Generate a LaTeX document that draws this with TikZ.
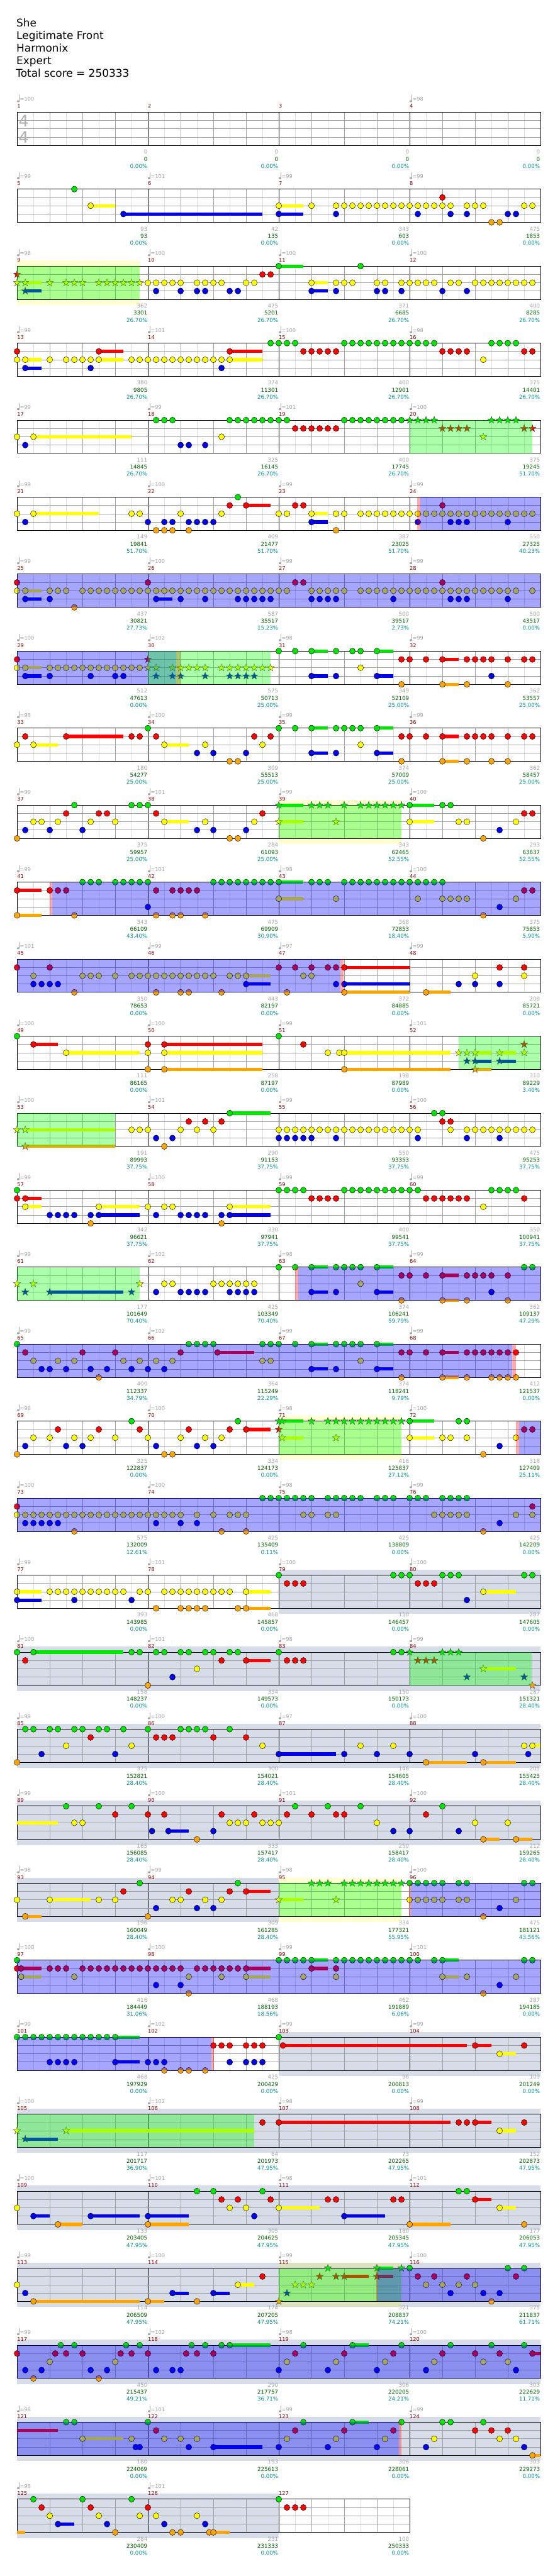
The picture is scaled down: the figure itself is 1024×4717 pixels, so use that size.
\documentclass[tikz,border=0pt]{standalone}
\usepackage{fontspec}
\setmainfont{DejaVu Sans}
\definecolor{cg}{RGB}{0,230,0}
\definecolor{cr}{RGB}{255,0,0}
\definecolor{cy}{RGB}{255,255,0}
\definecolor{cb}{RGB}{0,0,240}
\definecolor{co}{RGB}{255,165,0}
\definecolor{odc}{RGB}{0,0,255}
\definecolor{spc}{RGB}{0,255,0}
\definecolor{ybc}{RGB}{255,255,0}
\definecolor{gbc}{RGB}{214,220,232}
\definecolor{pkc}{RGB}{255,0,0}
\definecolor{eic}{RGB}{222,222,222}
\definecolor{grc}{RGB}{160,160,160}
\definecolor{mnc}{RGB}{139,0,0}
\definecolor{tgc}{RGB}{165,165,165}
\definecolor{sgn}{RGB}{0,100,0}
\definecolor{stl}{RGB}{0,150,150}
\definecolor{tsc}{RGB}{175,175,175}
\tikzset{
 notest/.style={draw=black,line width=0.5pt},
 starst/.style={draw=black!80,line width=0.4pt},
 eighthl/.style={draw=eic,line width=0.8pt},
 beatl/.style={draw=grc,line width=0.8pt},
 measl/.style={draw=black,line width=0.8pt},
 lanel/.style={draw=grc,line width=0.8pt},
 borderl/.style={draw=black,line width=1pt},
 mnum/.style={anchor=base west,inner sep=0pt,text=mnc,font=\fontsize{9.5}{11}\selectfont},
 tempot/.style={anchor=base west,inner sep=0pt,text=tgc,font=\fontsize{9.5}{11}\selectfont},
 sga/.style={anchor=base east,inner sep=0pt,text=tgc,font=\fontsize{10}{12}\selectfont},
 sgb/.style={anchor=base east,inner sep=0pt,text=sgn,font=\fontsize{10}{12}\selectfont},
 sgc/.style={anchor=base east,inner sep=0pt,text=stl,font=\fontsize{10}{12}\selectfont},
 titlet/.style={anchor=base west,inner sep=0pt,font=\fontsize{19.5}{23}\selectfont},
 tsig/.style={anchor=base west,inner sep=0pt,text=tsc,font=\fontsize{29}{30}\selectfont},
}
\newcommand\RS[1]{\begin{scope}[shift={(31.2pt,-#1pt)},x=14.97pt,y=-15.2pt]}
\newcommand\RE{\end{scope}}
\newcommand\GRID[1]{%
 \foreach \ii in {2,6,...,#1}{\draw[eighthl] (\ii,0) -- (\ii,4);}%
 \foreach \ii in {4,8,...,#1}{\draw[beatl] (\ii,0) -- (\ii,4);}%
 \foreach \ii in {16,32,...,#1}{\draw[measl] (\ii,0) -- (\ii,4);}%
 \foreach \ii in {1,2,3}{\draw[lanel] (0,\ii) -- (#1,\ii);}%
 \draw[borderl] (0,0) rectangle (#1,4);}
\newcommand\NT[3]{\foreach \pp in {#3}{\filldraw[notest,fill=#1] (\pp,#2) circle[x radius=5.3pt,y radius=5.5pt];}}
\newcommand\STR[3]{\foreach \pp in {#3}{\filldraw[starst,fill=#1] (\pp,#2) +(90:7pt) -- +(126:2.8pt) -- +(162:7pt) -- +(198:2.8pt) -- +(234:7pt) -- +(270:2.8pt) -- +(306:7pt) -- +(342:2.8pt) -- +(18:7pt) -- +(54:2.8pt) -- cycle;}}
\newcommand\BAR[4]{\fill[#1] (#3,{#2-0.197}) rectangle (#4,{#2+0.197});}
\newcommand\Ngr[1]{\NT{cg}{0}{#1}}
\newcommand\Nrd[1]{\NT{cr}{1}{#1}}
\newcommand\Nyl[1]{\NT{cy}{2}{#1}}
\newcommand\Nbl[1]{\NT{cb}{3}{#1}}
\newcommand\Nor[1]{\NT{co}{4}{#1}}
\newcommand\Sgr[1]{\STR{cg}{0}{#1}}
\newcommand\Srd[1]{\STR{cr}{1}{#1}}
\newcommand\Syl[1]{\STR{cy}{2}{#1}}
\newcommand\Sbl[1]{\STR{cb}{3}{#1}}
\newcommand\Sor[1]{\STR{co}{4}{#1}}
\newcommand\Bgr[2]{\BAR{cg}{0}{#1}{#2}}
\newcommand\Brd[2]{\BAR{cr}{1}{#1}{#2}}
\newcommand\Byl[2]{\BAR{cy}{2}{#1}{#2}}
\newcommand\Bbl[2]{\BAR{cb}{3}{#1}{#2}}
\newcommand\Bor[2]{\BAR{co}{4}{#1}{#2}}
\newcommand\OD[2]{\fill[odc,fill opacity=0.35] (#1,0) rectangle (#2,4);}
\newcommand\SP[2]{\fill[spc,fill opacity=0.33] (#1,0) rectangle (#2,4);}
\newcommand\PK[2]{\fill[pkc,fill opacity=0.33] (#1,0) rectangle (#2,4);}
\newcommand\GB[2]{\fill[gbc] (#1,-0.66) rectangle (#2,4.67);}
\newcommand\YB[2]{\fill[ybc,fill opacity=0.18] (#1,-0.66) rectangle (#2,4.67);}
\newcommand\MS[5]{%
 \pgfmathtruncatemacro\mrow{(#1-1)/4}%
 \pgfmathtruncatemacro\mcol{#1-1-4*\mrow}%
 \pgfmathsetmacro\mx{31.2+239.5*\mcol}%
 \pgfmathsetmacro\mxe{\mx+238.8}%
 \pgfmathsetmacro\mT{205.3+141*\mrow}%
 \node[mnum] (mn#1) at (\mx,\mT-7.3) {#1};%
 \def\tmpt{#2}%
 \ifx\tmpt\empty\else
  \fill[tgc] (\mx+2.2,\mT-20) ellipse (2.4 and 1.9);%
  \draw[tgc,line width=0.8pt] (\mx+4.3,\mT-20) -- (\mx+4.3,\mT-31);%
  \node[tempot] (tp#1) at (\mx+5,\mT-20) {=#2};%
 \fi
 \node[sga] (sa#1) at (\mxe,\mT+76.4) {#3};%
 \node[sgb] (sb#1) at (\mxe,\mT+89.6) {#4};%
 \node[sgc] (sc#1) at (\mxe,\mT+102.4) {#5\%};%
}
\begin{document}
\begin{tikzpicture}[x=1pt,y=-1pt]
\fill[white] (0,0) rectangle (1024,4717);
\useasboundingbox (0,0) rectangle (1024,4717);
\node[titlet] (t1) at (30,49.5) {She};
\node[titlet] (t2) at (30,72) {Legitimate Front};
\node[titlet] (t3) at (30,95) {Harmonix};
\node[titlet] (t4) at (30,117.5) {Expert};
\node[titlet] (t5) at (29,141) {Total score = 250333};
% row 1
\RS{205.3}\GRID{64}\RE
\node[tsig] (ts1) at (34,231.7) {4};
\node[tsig] (ts2) at (34,261.7) {4};
% row 2
\RS{346.3}\GRID{64}
\Byl{9}{12}\Bbl{13}{30}\Byl{32}{35}\Bbl{32}{35}
\Ngr{7}\Nrd{52}\Nyl{9,32,36}\Nyl{39,...,53}\Nyl{55,56,57,62,63}
\Nbl{13,32,39,49,53,55,60,61}\Nor{58,59}
\RE
% row 3
\RS{487.3}\YB{0}{15}\GRID{64}
\Byl{1}{3}\Bbl{1}{3}\Bgr{32}{35}\Byl{36}{38}\Bbl{36}{38}
\Syl{0,1,4,6,7,8}\Syl{10,...,15}\Srd{0}\Sbl{1}
\Nyl{16,...,20}\Nyl{22,...,25}\Nyl{28,29}\Nbl{17,20,22,23,26,27}\Nrd{30,31}\Ngr{32,42}
\Nyl{36,39,40,41,44,45}\Nyl{47,...,51}\Nyl{53,54}\Nyl{56,...,63}\Nbl{36,39,44,45,47,52,55}
\SP{0}{15}\RE
% row 4
\RS{628.3}\GRID{64}
\Byl{1}{3}\Bbl{1}{3}\Brd{10}{13}\Byl{10}{13}\Brd{26}{30}\Byl{26}{30}
\Nrd{0,10,26}\Nyl{0,1,4}\Nyl{6,...,10}\Nyl{14,...,26}\Nbl{1,9,25}
\Ngr{31,...,34}\Ngr{40,...,51}\Ngr{58,...,61}\Nrd{35,...,39}\Nrd{52,...,55}\Nrd{62,63}\Nyl{57}
\RE
% row 5
\RS{769.3}\GRID{64}
\Byl{2}{14}
\Nyl{0,2,25}\Nbl{1,20,21,23}\Ngr{17,18,19}\Ngr{26,...,33}\Ngr{40,...,47}\Nrd{34,...,39}
\Sgr{48,...,51}\Sgr{58,...,61}\Srd{52,...,55}\Srd{62,63}\Syl{57}
\SP{48}{63}\RE
% row 6
\RS{910.3}\GRID{64}
\Byl{2}{10}\Brd{28}{31}\Byl{36}{38}\Bbl{36}{38}
\Nyl{0,2,14,15,20,25,32,33,36,39,40}\Nyl{42,...,63}
\Nbl{1,16,18,19,21,22,23,24,36,49,53,54,55,60}
\Nor{17,18,19,21,39}\Ngr{27}\Nrd{26,28,34,35,52}
\PK{48.95}{49.3}\OD{49.3}{64}\RE
% row 7
\RS{1051.3}\GRID{64}
\Byl{1}{3}\Bbl{1}{3}\Byl{17}{19}\Bbl{17}{19}
\Nrd{0,16,34,35,52}\Nyl{0,1,4,5,6}\Nyl{8,...,33}\Nyl{36,...,40}\Nyl{42,...,61}\Nyl{63}
\Nbl{1,4,17,20,23,27,28,29,30,31,36,37,38,39,46,53,54,55,60}\Nor{7}
\OD{0}{64}\RE
% row 8
\RS{1192.3}\GRID{64}
\Byl{1}{3}\Bbl{1}{3}\Bgr{36}{38}\Bbl{36}{38}\Bgr{44}{46}\Bbl{44}{46}\Brd{52}{54}\Bor{52}{54}
\Nrd{0}\Nyl{0,1}\Nyl{4,...,15}\Nbl{1,4,9,12,13}
\Srd{16}\Syl{16,17,19,20,21,22,23}\Syl{25,...,31}\Sbl{17,19,20,23,26,27,28,29}
\Ngr{32,34,36,39,41,42,44}\Nyl{42}\Nbl{36,39,44,58}
\Nrd{47,48,50,52,55,56,57,58,60,62,63}\Nor{47,52,55,60}
\OD{0}{19.46}\PK{19.46}{19.98}\SP{16}{31}\RE
% row 9
\RS{1333.3}\GRID{64}
\Brd{6}{13}\Byl{2}{5}\Byl{18}{21}\Bgr{36}{38}\Bbl{36}{38}\Bgr{44}{46}\Bbl{44}{46}\Brd{52}{54}\Bor{52}{54}
\Nrd{1,6,14,15,17,29,31,47,48,50,52,55,56,57,58,60,62,63}
\Nyl{0,2,18,23,30,42}\Ngr{16,32,34,36,39,40,41,42,44}\Nbl{22,24,28,36,39,44}\Nor{26,27,47,52,55,58,60}
\RE
% row 10
\RS{1474.3}\YB{32}{47}\GRID{64}
\Bgr{32}{35}\Byl{18}{21}\Byl{32}{35}\Bgr{48}{51}\Byl{48}{51}
\Ngr{7,14,15,16,48,52,53}\Sgr{32,36,37,38,40}\Sgr{42,...,47}
\Nrd{6,10,11,17,30,62,63}\Nyl{2,3,5,9,12,18,23,29,48,54,55,61}\Syl{32,39}
\Nbl{1,4,8,22,24,28,59}\Nor{0,26,27,57}
\SP{32}{47}\RE
% row 11
\RS{1615.3}\GRID{64}
\Brd{0}{3}\Bor{0}{3}\Bgr{32}{35}\Byl{32}{35}
\Nrd{0,4,5,6,17,19,20,21,22,62,63}\Nor{0,7,17,19,20,23,57}
\Ngr{8,9,10}\Ngr{12,...,16}\Ngr{24,...,32}\Ngr{36,37,38}\Ngr{40,...,52}
\Nbl{16,59}\Nyl{32,39,49,52,53,54,55,61}
\PK{4}{4.3}\OD{4.3}{64}\RE
% row 12
\RS{1756.3}\GRID{64}
\Byl{28}{31}\Bbl{28}{31}\Brd{40}{48}\Bbl{40}{48}\Bor{40}{48}\Bor{50}{53}
\Nrd{0,4,32,34,36,38,39,40,59,62}\Nyl{2,8,9,10,12}\Nyl{14,...,24}\Nyl{26,27,28,35,36,56,62}
\Nbl{2,3,4,5,28,39,40,54,56,59}\Nor{7,17,20,21,25,33,40,50}
\OD{0}{39.5}\PK{39.5}{39.95}\RE
% row 13
\RS{1897.3}\GRID{64}
\Brd{2}{5}\Brd{18}{30}\Byl{6}{15}\Byl{18}{30}\Bor{18}{30}\Byl{40}{53}\Bor{40}{53}\Byl{56}{58}\Byl{59}{61}\Bbl{56}{58}\Bbl{59}{61}\Bor{56}{58}
\Ngr{0,32}\Nrd{2,16,18,35}\Nyl{6,16,18,38,39.4,40}\Nor{16,18,40}
\Srd{62}\Syl{54,55,56,59,62}\Sbl{55,56,59}\Sor{56}
\SP{54}{64}\RE
% row 14
\RS{2038.3}\GRID{64}
\Byl{1}{12}\Bor{1}{12}\Bgr{26}{31}
\Syl{0,1}\Sor{1}
\Nyl{14,15,16,20,22,24}\Nyl{32,...,49}\Nyl{53}\Nyl{55,...,63}
\Nbl{17,19,32,33,34,35,36,39,49,55,59}\Nor{18}\Nrd{21,23,25,52,53}\Ngr{26,51,52}
\SP{0}{12}\RE
% row 15
\RS{2179.3}\GRID{64}
\Brd{1}{3}\Byl{1}{3}\Byl{10}{15}\Bbl{10}{15}\Byl{26}{31}\Bbl{26}{31}
\Ngr{0}\Ngr{32,...,35}\Ngr{40,...,49}\Ngr{58,...,61}
\Nrd{0,1,36,37,38,39}\Nrd{50,...,55}\Nrd{62}
\Nyl{1,10,16,18,19,26,57}\Nbl{4,5,6,7,9,10,17,20,21,22,23,25,26}\Nor{9,25}
\RE
% row 16
\RS{2320.3}\GRID{64}
\Bbl{4}{13}\Bgr{36}{38}\Bbl{36}{38}\Bgr{44}{46}\Bbl{44}{46}\Brd{52}{54}\Bor{52}{54}
\Syl{0,2,15}\Sbl{1,4,14}
\Nyl{18,19,24,25,26,27,28,29,42}\Nbl{17,20,21,22,23,26,27,28,29,36,39,44,58}
\Ngr{32,34,36,39,40,41,42,44,62,63}\Nrd{47,48,50,52,55,56,57,58,60}\Nor{47,52,55,60}
\SP{0}{15}\PK{34}{34.4}\OD{34.4}{64}\RE
% row 17
\RS{2461.3}\GRID{64}
\Brd{24.5}{29}\Bgr{36}{38}\Bbl{36}{38}\Bgr{44}{46}\Bbl{44}{46}\Brd{52}{54}\Bor{52}{54}
\Ngr{0,21,22,23,24,30,31,32,34,36,39,40,41,42,44}
\Nrd{1,8,12,20,24.5,47,48,50,52,55,56,57,58,59,60,61}
\Nyl{2,5,7,13,15,17,19,30,31,42}\Nbl{3,4,6,9,11,14,16,18,36,39,44}\Nor{10,47,52,55,58,59,60,61}
\OD{0}{60.5}\PK{60.5}{61}\RE
% row 18
\RS{2602.3}\YB{32}{47}\GRID{64}
\Brd{28}{31}\Bgr{32.4}{35}\Byl{32.4}{35}\Bgr{48}{51}\Byl{48}{51}
\Nor{0,18,19,57}\Nbl{1,6,8,17,22,24,59}\Nyl{2,4,7,9,12,16,20,23,25,48,52,53,55,61}
\Nrd{5,10,15,21,26,28,62,63}\Ngr{14,27,48,54,55}
\Syl{32.4,39}\Srd{32}\Sgr{32,32.4,36}\Sgr{38,...,47}
\SP{32}{47}\PK{61}{61.4}\OD{61.4}{64}\RE
% row 19
\RS{2743.3}\GRID{64}
\Nrd{0,63}\Nyl{0,...,20}\Nyl{22,24,26,27,28,35,36,38,39,51,52,53,54,55,61,63}
\Nbl{1,2,3,4,5,17,20,22,59}\Nor{7,25,28,57}
\Ngr{30,...,36}\Ngr{38,...,42}\Ngr{44,45,46,48,49,50,52,53,54,55}
\OD{0}{64}\RE
% row 20
\RS{2884.3}\GB{32}{64}\GRID{64}
\Byl{0}{3}\Bbl{0}{3}\Byl{28}{31}\Bor{28}{31}\Byl{57}{61}
\Nyl{0}\Nyl{4,...,13}\Nyl{15,16}\Nyl{18,...,26}\Nyl{28,57}
\Nbl{0,7,14,55}\Nor{17,20,21,22,23,27,28}\Ngr{32,46,47,48,52,53,54,62,63}\Nrd{33,34,35,49,50,51}
\OD{0}{0.1}\RE
% row 21
\RS{3025.3}\GB{0}{64}\GRID{64}
\Bgr{2}{13}\Brd{28}{31}\Byl{57}{61}
\Ngr{0,2,14,15,17,18,20,21,23,24,26,27,32,46,47}\Nrd{1,25,28,33,34,35}\Nyl{22}\Nbl{19}\Nor{16}
\Sgr{48,52,53,54}\Srd{49,50,51}\Syl{57}\Sbl{55,62}\Sor{63}
\SP{48}{62.9}\RE
% row 22
\RS{3166.3}\GB{0}{64}\GRID{64}
\Bbl{32}{39}\Byl{63}{64}\Bor{50}{55}\Bor{57}{61}
\Ngr{1,2,4,5,7,8,10,11,13,16,20,21,22,23,26}\Nrd{9,17,18,19,24,28}
\Nyl{6,14,30,42,46,62,63}\Nbl{3,12,32,40,44,48,56,62.5}\Nor{0,50,57}
\RE
% row 23
\RS{3307.3}\GB{0}{64}\GRID{64}
\Byl{0}{5}\Bbl{18.5}{21}\Bor{57}{59}\Bor{61}{63}
\Nyl{7,8,26,27,28,30,31,32,44,56,60}\Ngr{6,10,14,34,38,42,52}
\Nrd{12,16,18,25,29,33,36,39,40,50}\Nbl{16.5,18.5,24,46,48,54}\Nor{22,57,61}
\RE
% row 24
\RS{3448.3}\GB{0}{32}\YB{32}{47}\GRID{64}
\Byl{4}{9}\Bor{1}{3}\Brd{28}{31}\Byl{32}{35}
\Nyl{0,4,10,12,19,20,23,25}\Nyl{48,...,52}\Nyl{54,55,61}\Nor{1,16,57}
\Ngr{15,27}\Ngr{48,...,52}\Ngr{54,55,62,63}\Nrd{13,21,26,28}\Nbl{17,22,24,59}
\Syl{32,39}\Sgr{36,37,38}\Sgr{40,...,47}
\SP{32}{47}\PK{47.95}{48.15}\OD{48.15}{64}\RE
% row 25
\RS{3589.3}\GRID{64}
\Brd{0.5}{3}\Byl{0.5}{3}\Brd{28}{31}\Byl{28}{31}\Bgr{36}{38}\Brd{36}{38}\Bgr{52}{54}\Byl{52}{54}
\Ngr{0}\Ngr{32,...,36}\Ngr{39,...,49}\Ngr{51,52,62,63}
\Nrd{0,0.5,4,5,6}\Nrd{8,...,20}\Nrd{22,...,28}\Nrd{36,39}
\Nyl{0.5,7,21,25,28,35,39,52,55,61}\Nbl{17,20,59}\Nor{21,57}
\OD{0}{64}\RE
% row 26
\RS{3730.3}\GB{32}{64}\GRID{64}
\Bgr{12}{15}\Bbl{12}{15}\Brd{32.5}{55}\Brd{56}{58}\Byl{59}{61}
\Ngr{0,...,12}\Ngr{32}\Nbl{4,5,6,7,12,16,17,18,26,28,29,30}\Nor{18,20,21,23}
\Nrd{24,25,26,28,29,30,32.5,56,62}\Nyl{59}
\OD{0}{23.8}\PK{23.8}{24.1}\RE
% row 27
\RS{3871.3}\GB{0}{64}\GRID{64}
\Byl{6}{29}\Bbl{1}{5}\Brd{32}{53}\Brd{56}{58}\Byl{59}{61}
\Syl{0,6}\Sbl{1}\Nrd{30,32,54,55,56,62}\Nyl{59}
\SP{0}{29}\RE
% row 28
\RS{4012.3}\GB{0}{64}\GRID{64}
\Byl{32}{37}\Byl{59}{61}\Bbl{2}{4}\Bbl{9}{15}\Bbl{16}{21}\Bbl{40}{45}\Bor{5}{8}\Bor{16}{21}\Bor{48}{53}\Brd{56}{58}
\Nyl{0,26,28,32,59}\Nbl{2,9,16,29,40}\Nor{5,16,48,62}\Ngr{22,24,30,54,55}\Nrd{25,27,31,38,39,46,47,56}
\RE
% row 29
\RS{4153.3}\GB{0}{64}\YB{32}{47}\GRID{64}
\Byl{27}{29}\Bbl{19}{21}\Bbl{24}{26}\Bor{2}{15}\Bor{16}{18}\Brd{40}{43}\Brd{44}{46}\Bgr{44}{46}
\Nyl{0,27}\Nyl{50,52,54,56}\Nbl{1,19,24,53,57,59}\Nor{2,16,22,58}\Nrd{30,49,51,55,61}\Ngr{48,60,62}
\Syl{34,35,36}\Sbl{33}\Sor{32}\Srd{37,39,40,44}\Sgr{38,44,47}
\SP{32}{47}\PK{43.9}{44.1}\OD{44.1}{64}\RE
% row 30
\RS{4294.3}\GB{0}{64}\GRID{64}
\Bgr{26}{31}\Bgr{41}{43}\Brd{63}{64}
\Nrd{0,4.67,6,8,12.67,14,16,20.67,22,24,34,40,46,52,56,59,63}
\Ngr{5.33,7,13.33,15,21.33,23,25,26,35,41,47,53,58,62}
\Nyl{4,12,33,39,45,51,57,60}\Nbl{1,3,9,11,17,19,20,32,38,44,50,61}\Nor{2,10}
\OD{0}{64}\RE
% row 31
\RS{4435.3}\GB{0}{64}\GRID{64}
\Brd{0}{5}\Byl{8}{13}\Bgr{41}{43}\Bbl{24}{30}\Bor{63}{64}
\Nrd{17,34,40,46,56,58,60}\Ngr{6,7,16,35,41,47,52,53,57}
\Nyl{8,14,18,20,22,33,39,45,51,59,61}\Nbl{14.5,15,21,24,32,38,44,50,62}\Nor{63}
\OD{0}{46.7}\PK{46.7}{47}\RE
% row 32
\RS{4576.3}\GB{0}{32}\GRID{48}
\Bor{0}{1}\Bor{24}{26}\Bbl{5}{7}
\Nor{12,19,20,23.5,24}\Ngr{2,8,14,32}\Nrd{3,9,16,33,34,35}\Nyl{4,10,15,17,22}\Nbl{5,11,18,23}
\RE
% measure labels
\MS{1}{100}{0}{0}{0.00}\MS{2}{}{0}{0}{0.00}\MS{3}{}{0}{0}{0.00}\MS{4}{98}{0}{0}{0.00}
\MS{5}{99}{93}{93}{0.00}\MS{6}{101}{42}{135}{0.00}\MS{7}{99}{343}{603}{0.00}\MS{8}{99}{475}{1853}{0.00}
\MS{9}{98}{362}{3301}{26.70}\MS{10}{100}{475}{5201}{26.70}\MS{11}{100}{371}{6685}{26.70}\MS{12}{100}{400}{8285}{26.70}
\MS{13}{99}{380}{9805}{26.70}\MS{14}{101}{374}{11301}{26.70}\MS{15}{100}{400}{12901}{26.70}\MS{16}{98}{375}{14401}{26.70}
\MS{17}{99}{111}{14845}{26.70}\MS{18}{99}{325}{16145}{26.70}\MS{19}{101}{400}{17745}{26.70}\MS{20}{100}{375}{19245}{51.70}
\MS{21}{99}{149}{19841}{51.70}\MS{22}{100}{409}{21477}{51.70}\MS{23}{99}{387}{23025}{51.70}\MS{24}{99}{550}{27325}{40.23}
\MS{25}{99}{437}{30821}{27.73}\MS{26}{100}{587}{35517}{15.23}\MS{27}{99}{500}{39517}{2.73}\MS{28}{99}{500}{43517}{0.00}
\MS{29}{100}{512}{47613}{0.00}\MS{30}{102}{575}{50713}{25.00}\MS{31}{98}{349}{52109}{25.00}\MS{32}{99}{362}{53557}{25.00}
\MS{33}{98}{180}{54277}{25.00}\MS{34}{100}{309}{55513}{25.00}\MS{35}{99}{374}{57009}{25.00}\MS{36}{99}{362}{58457}{25.00}
\MS{37}{99}{375}{59957}{25.00}\MS{38}{101}{284}{61093}{25.00}\MS{39}{99}{343}{62465}{52.55}\MS{40}{100}{293}{63637}{52.55}
\MS{41}{99}{343}{66109}{43.40}\MS{42}{101}{475}{69909}{30.90}\MS{43}{98}{368}{72853}{18.40}\MS{44}{100}{375}{75853}{5.90}
\MS{45}{101}{350}{78653}{0.00}\MS{46}{99}{443}{82197}{0.00}\MS{47}{97}{372}{84885}{0.00}\MS{48}{99}{209}{85721}{0.00}
\MS{49}{100}{111}{86165}{0.00}\MS{50}{100}{258}{87197}{0.00}\MS{51}{99}{198}{87989}{0.00}\MS{52}{101}{310}{89229}{3.40}
\MS{53}{100}{191}{89993}{37.75}\MS{54}{101}{290}{91153}{37.75}\MS{55}{99}{550}{93353}{37.75}\MS{56}{100}{475}{95253}{37.75}
\MS{57}{99}{342}{96621}{37.75}\MS{58}{100}{330}{97941}{37.75}\MS{59}{99}{400}{99541}{37.75}\MS{60}{99}{350}{100941}{37.75}
\MS{61}{99}{177}{101649}{70.40}\MS{62}{102}{425}{103349}{70.40}\MS{63}{98}{374}{106241}{59.79}\MS{64}{99}{362}{109137}{47.29}
\MS{65}{99}{400}{112337}{34.79}\MS{66}{102}{364}{115249}{22.29}\MS{67}{99}{374}{118241}{9.79}\MS{68}{99}{412}{121537}{0.00}
\MS{69}{98}{325}{122837}{0.00}\MS{70}{100}{334}{124173}{0.00}\MS{71}{98}{416}{125837}{27.12}\MS{72}{100}{318}{127409}{25.11}
\MS{73}{100}{575}{132009}{12.61}\MS{74}{100}{425}{135409}{0.11}\MS{75}{98}{425}{138809}{0.00}\MS{76}{99}{425}{142209}{0.00}
\MS{77}{99}{393}{143985}{0.00}\MS{78}{101}{468}{145857}{0.00}\MS{79}{100}{150}{146457}{0.00}\MS{80}{100}{287}{147605}{0.00}
\MS{81}{100}{158}{148237}{0.00}\MS{82}{101}{334}{149573}{0.00}\MS{83}{98}{150}{150173}{0.00}\MS{84}{99}{287}{151321}{28.40}
\MS{85}{99}{375}{152821}{28.40}\MS{86}{100}{300}{154021}{28.40}\MS{87}{97}{146}{154605}{28.40}\MS{88}{100}{205}{155425}{28.40}
\MS{89}{99}{165}{156085}{28.40}\MS{90}{100}{333}{157417}{28.40}\MS{91}{101}{250}{158417}{28.40}\MS{92}{100}{212}{159265}{28.40}
\MS{93}{98}{196}{160049}{28.40}\MS{94}{99}{309}{161285}{28.40}\MS{95}{98}{334}{177321}{55.95}\MS{96}{100}{475}{181121}{43.56}
\MS{97}{100}{416}{184449}{31.06}\MS{98}{100}{468}{188193}{18.56}\MS{99}{99}{462}{191889}{6.06}\MS{100}{101}{287}{194185}{0.00}
\MS{101}{99}{468}{197929}{0.00}\MS{102}{102}{425}{200429}{0.00}\MS{103}{99}{96}{200813}{0.00}\MS{104}{99}{109}{201249}{0.00}
\MS{105}{100}{117}{201717}{36.90}\MS{106}{102}{64}{201973}{47.95}\MS{107}{98}{73}{202265}{47.95}\MS{108}{99}{152}{202873}{47.95}
\MS{109}{100}{133}{203405}{47.95}\MS{110}{101}{305}{204625}{47.95}\MS{111}{98}{180}{205345}{47.95}\MS{112}{101}{177}{206053}{47.95}
\MS{113}{99}{114}{206509}{47.95}\MS{114}{100}{174}{207205}{47.95}\MS{115}{99}{321}{208837}{74.21}\MS{116}{100}{375}{211837}{61.71}
\MS{117}{99}{450}{215437}{49.21}\MS{118}{102}{290}{217757}{36.71}\MS{119}{98}{306}{220205}{24.21}\MS{120}{100}{303}{222629}{11.71}
\MS{121}{98}{180}{224069}{0.00}\MS{122}{101}{193}{225613}{0.00}\MS{123}{99}{306}{228061}{0.00}\MS{124}{99}{303}{229273}{0.00}
\MS{125}{98}{284}{230409}{0.00}\MS{126}{101}{231}{231333}{0.00}\MS{127}{}{100}{250333}{0.00}
\end{tikzpicture}
\end{document}
